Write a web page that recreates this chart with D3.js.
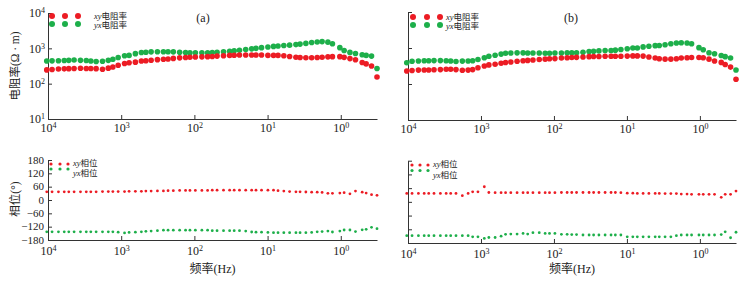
<!DOCTYPE html>
<html><head><meta charset="utf-8">
<script src="https://cdn.jsdelivr.net/npm/d3@7"></script>
<style>
html,body{margin:0;padding:0;background:#fff;}
svg text{font-family:"Liberation Serif","Times New Roman","Noto Sans CJK SC",serif !important;fill:#222;}
</style></head>
<body><svg id="c" width="753" height="283"></svg>
<script>
// Frequencies (Hz)
const freqs = [10400,8800,7200,6000,5200,4400,3600,3000,2600,2200,1800,1500,1300,1100,900,780,640,530,460,390,320,265,229,194,159,132,115,97,79,66,57,49,40,33,28.6,24.2,19.9,16.5,14.4,12.1,9.9,8.3,7.2,6.0,5.0,4.1,3.6,3.0,2.5,2.1,1.8,1.5,1.3,1.03,0.9,0.75,0.63,0.51,0.45,0.38,0.32];

// Panel (a) apparent resistivity (Ω·m)
const rhoXY_a = [245,251,260,263,266,269,272,269,269,266,257,275,295,331,372,389,407,437,447,462,479,490,501,519,537,550,562,569,575,582,589,603,617,631,638,646,646,646,646,646,631,631,631,617,589,562,550,543,543,550,562,575,582,582,556,513,473,398,363,316,155];
const rhoYX_a = [437,442,447,452,457,468,457,452,437,422,432,457,490,550,617,631,708,759,776,794,804,804,804,794,776,759,750,750,750,750,759,776,794,822,851,881,923,966,1000,1047,1096,1135,1161,1202,1230,1274,1318,1380,1462,1514,1549,1496,1349,1047,871,767,716,661,631,603,269];
// Panel (a) phase (°)
const phiXY_a = [37,37,37,37,37,37,37,37,37,37,38,38,38,38,38,39,39,39,40,40,41,41,42,42,43,43,43,43,43,43,44,44,44,44,44,44,44,44,44,44,44,44,42,40,38,37,37,36,35,35,34,30,30,31,33,28,40,35,31,24,21];
const phiYX_a = [-143,-143,-143,-143,-143,-143,-143,-143,-143,-143,-143,-143,-143,-145,-148,-146,-145,-143,-141,-140,-138,-136,-136,-136,-136,-136,-136,-136,-136,-136,-138,-138,-138,-138,-138,-138,-140,-144,-145,-145,-146,-147,-147,-147,-147,-147,-147,-147,-146,-143,-142,-140,-144,-140,-135,-135,-142,-134,-132,-123,-129];

// Panel (b) apparent resistivity (Ω·m)
const rhoXY_b = [229,237,243,245,245,248,251,257,257,251,240,243,251,282,316,339,355,376,394,407,427,442,452,462,479,490,501,507,525,537,543,550,562,575,582,582,589,589,589,589,596,603,603,596,562,525,501,490,490,501,525,537,543,543,537,490,437,398,347,295,135];
const rhoYX_b = [389,427,437,442,442,447,447,442,437,422,432,437,442,479,537,589,631,676,716,724,733,733,724,724,724,716,716,724,724,733,741,741,759,794,813,832,851,851,871,912,955,1000,1000,1072,1122,1161,1175,1230,1318,1380,1396,1380,1318,1023,891,741,692,617,575,525,245];
// Panel (b) phase (°)
const phiXY_b = [37,37,37,37,37,37,37,37,37,37,27,37,44,44,66,41,40,40,40,40,40,40,40,40,40,40,40,40,41,41,41,41,41,41,41,41,41,41,41,40,38,38,37,37,37,37,37,36,36,36,34,34,33,33,33,33,33,20,33,33,47];
const phiYX_b = [-148,-148,-148,-148,-148,-148,-148,-148,-148,-148,-148,-148,-153,-153,-160,-156,-156,-150,-142,-141,-141,-138,-141,-135,-135,-138,-138,-138,-142,-142,-143,-143,-145,-145,-145,-145,-145,-145,-145,-145,-153,-153,-153,-153,-153,-153,-153,-153,-153,-148,-145,-145,-145,-145,-145,-145,-145,-143,-131,-157,-133];

// Tick values / labels
const freqTicks = [1e4,1e3,1e2,1e1,1e0];
const freqTickExp = ["4","3","2","1","0"];
const rhoTicks = [1e1,1e2,1e3,1e4];
const rhoTickExp = ["1","2","3","4"];
const phiTicks = [-180,-120,-60,0,60,120,180];

const RED = "#ec1c24", GREEN = "#1daf4a";
const FONT = "'Liberation Serif','Times New Roman','Noto Sans CJK SC',serif";
const svg = d3.select("#c");

function supLabels(sel, exps, values){
  sel.selectAll(".tick text").each(function(d){
    const t = d3.select(this); t.text(null);
    const i = values.indexOf(d);
    t.append("tspan").text("10");
    t.append("tspan").attr("font-size", 8).attr("dy", "-0.5em").text(exps[i]);
  });
}

function styleAxis(g, fs){
  g.attr("font-family", FONT);
  g.selectAll("text").attr("font-size", fs || 12).attr("fill", "#222").attr("font-family", FONT);
  g.selectAll("path,line").attr("stroke", "#333");
}

function legendText(x, y, a, b){
  const t = svg.append("text").attr("x", x).attr("y", y).attr("font-size", 8.5).attr("font-family", FONT);
  t.append("tspan").attr("font-style", "italic").text(a);
  t.append("tspan").text(b);
}

function panel(cfg){
  const x = d3.scaleLog().domain([1e4, 0.32]).range([cfg.x0, cfg.x1]);
  // resistivity
  const yr = d3.scaleLog().domain([10, 1e4]).range([cfg.rB, cfg.rT]);
  const gx = svg.append("g").attr("transform", `translate(0,${cfg.rB})`)
    .call(d3.axisBottom(x).tickValues(freqTicks).tickSizeInner(-4).tickSizeOuter(0).tickPadding(4));
  supLabels(gx, freqTickExp, freqTicks);
  const gy = svg.append("g").attr("transform", `translate(${cfg.x0},0)`)
    .call(d3.axisLeft(yr).tickValues(rhoTicks).tickSizeInner(-4).tickSizeOuter(0).tickPadding(3));
  if (cfg.labels) supLabels(gy, rhoTickExp, rhoTicks); else gy.selectAll(".tick text").remove();
  styleAxis(gx); styleAxis(gy);

  svg.append("g").selectAll("circle").data(freqs).join("circle")
    .attr("cx", (d) => x(d)).attr("cy", (d, i) => yr(cfg.rYX[i])).attr("r", 2.8).attr("fill", GREEN);
  svg.append("g").selectAll("circle").data(freqs).join("circle")
    .attr("cx", (d) => x(d)).attr("cy", (d, i) => yr(cfg.rXY[i])).attr("r", 2.8).attr("fill", RED);

  // phase
  const yp = d3.scaleLinear().domain([-180, 180]).range([cfg.pB, cfg.pT]);
  const gx2 = svg.append("g").attr("transform", `translate(0,${cfg.pB})`)
    .call(d3.axisBottom(x).tickValues(freqTicks).tickSizeInner(-4).tickSizeOuter(0).tickPadding(6));
  supLabels(gx2, freqTickExp, freqTicks);
  const gy2 = svg.append("g").attr("transform", `translate(${cfg.x0},0)`)
    .call(d3.axisLeft(yp).tickValues(phiTicks).tickSizeInner(-4).tickSizeOuter(0).tickPadding(4));
  if (!cfg.labels) gy2.selectAll(".tick text").remove();
  styleAxis(gx2); styleAxis(gy2, 11);
  gy2.selectAll(".tick text").attr("dy", "0.28em");

  svg.append("g").selectAll("circle").data(freqs).join("circle")
    .attr("cx", (d) => x(d)).attr("cy", (d, i) => yp(cfg.pXY[i])).attr("r", 1.4).attr("fill", RED);
  svg.append("g").selectAll("circle").data(freqs).join("circle")
    .attr("cx", (d) => x(d)).attr("cy", (d, i) => yp(cfg.pYX[i])).attr("r", 1.4).attr("fill", GREEN);

  // legends
  const L = cfg.leg;
  L.rDots.forEach(cx => {
    svg.append("circle").attr("cx", cx).attr("cy", L.rY1).attr("r", 3).attr("fill", RED);
    svg.append("circle").attr("cx", cx).attr("cy", L.rY2).attr("r", 3).attr("fill", GREEN);
  });
  legendText(L.rTx, L.rY1 + 3, "xy", "电阻率");
  legendText(L.rTx, L.rY2 + 4, "yx", "电阻率");
  L.pDots.forEach(cx => {
    svg.append("circle").attr("cx", cx).attr("cy", L.pY1).attr("r", 1.6).attr("fill", RED);
    svg.append("circle").attr("cx", cx).attr("cy", L.pY2).attr("r", 1.6).attr("fill", GREEN);
  });
  legendText(L.pTx, L.pT1 + 3, "xy", "相位");
  legendText(L.pTx, L.pT2 + 4, "yx", "相位");
  svg.append("text").attr("x", cfg.tagX).attr("y", 22).attr("text-anchor", "middle")
    .attr("font-size", 12).attr("font-family", FONT).text(cfg.tag);
  svg.append("text").attr("x", (cfg.x0 + cfg.x1) / 2).attr("y", 273).attr("text-anchor", "middle")
    .attr("font-size", 12).attr("font-family", FONT).text("频率(Hz)");
}

panel({x0: 48, x1: 377, rT: 13, rB: 119, pT: 160, pB: 240, labels: true,
  rXY: rhoXY_a, rYX: rhoYX_a, pXY: phiXY_a, pYX: phiYX_a, tag: "(a)", tagX: 203,
  leg: {rDots: [52, 65, 78], rY1: 16, rY2: 24, rTx: 94,
        pDots: [51, 60, 68], pY1: 164, pY2: 169, pTx: 73, pT1: 163, pT2: 172}});
panel({x0: 408, x1: 736, rT: 12, rB: 120, pT: 160.7, pB: 243, labels: false,
  rXY: rhoXY_b, rYX: rhoYX_b, pXY: phiXY_b, pYX: phiYX_b, tag: "(b)", tagX: 571,
  leg: {rDots: [413, 427, 440], rY1: 17, rY2: 25, rTx: 446,
        pDots: [412, 420, 428], pY1: 165, pY2: 170.5, pTx: 433, pT1: 164, pT2: 174}});

// y-axis titles
svg.append("text").attr("transform", "translate(19,66) rotate(-90)").attr("text-anchor", "middle")
  .attr("font-size", 11.5).attr("font-family", FONT).text("电阻率(Ω · m)");
svg.append("text").attr("transform", "translate(19,199) rotate(-90)").attr("text-anchor", "middle")
  .attr("font-size", 11.5).attr("font-family", FONT).text("相位(°)");
</script></body></html>
